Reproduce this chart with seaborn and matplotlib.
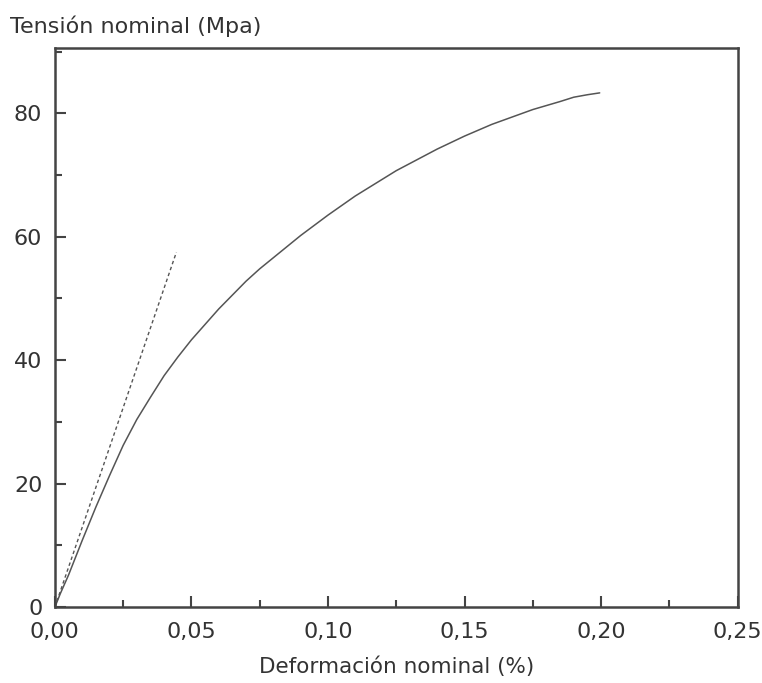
import numpy as np
import pandas as pd
import seaborn as sns
import matplotlib.pyplot as plt
from matplotlib.ticker import MultipleLocator, FuncFormatter

sns.set_style("white")
plt.rcParams['font.family'] = ['DejaVu Sans']

# curva tension-deformacion
deformacion = [0.0, 0.002, 0.005, 0.01, 0.015, 0.02, 0.025, 0.03, 0.035, 0.04, 0.045,
               0.05, 0.06, 0.07, 0.075, 0.08, 0.09, 0.10, 0.11, 0.125, 0.14, 0.15,
               0.16, 0.175, 0.185, 0.19, 0.195, 0.1995]
tension = [0.0, 2.2, 5.2, 10.8, 16.2, 21.3, 26.2, 30.4, 34.0, 37.5, 40.5,
           43.3, 48.3, 52.8, 54.8, 56.6, 60.2, 63.5, 66.6, 70.7, 74.2, 76.3,
           78.2, 80.6, 81.9, 82.6, 83.0, 83.3]

# recta del modulo elastico (discontinua)
modulo_x = [0.0, 0.0445]
modulo_y = [0.0, 57.5]

curva = pd.DataFrame({"x": deformacion, "y": tension})
recta = pd.DataFrame({"x": modulo_x, "y": modulo_y})

fig, ax = plt.subplots(figsize=(7.62, 6.83), dpi=100)
fig.subplots_adjust(left=0.072, right=0.968, bottom=0.111, top=0.930)

sns.lineplot(data=curva, x="x", y="y", ax=ax, color="#555555", linewidth=1.1)
sns.lineplot(data=recta, x="x", y="y", ax=ax, color="#555555", linewidth=1.0,
             linestyle=(0, (2.5, 2)))

ax.set_xlim(0, 0.25)
ax.set_ylim(0, 90.6)
ax.xaxis.set_major_locator(MultipleLocator(0.05))
ax.xaxis.set_minor_locator(MultipleLocator(0.025))
ax.yaxis.set_major_locator(MultipleLocator(20))
ax.yaxis.set_minor_locator(MultipleLocator(10))
ax.xaxis.set_major_formatter(FuncFormatter(lambda v, p: f"{v:.2f}".replace(".", ",")))

txt = "#333333"
ax.tick_params(which="both", direction="in", colors="#444444", labelcolor=txt,
               labelsize=16, bottom=True, left=True, top=False, right=False, width=1.5)
ax.tick_params(which="major", length=8)
ax.tick_params(which="minor", length=5)
ax.tick_params(axis="x", which="major", pad=11)
ax.tick_params(axis="y", which="major", pad=9)

for s in ax.spines.values():
    s.set_color("#444444")
    s.set_linewidth(1.8)

ax.set_xlabel("Deformación nominal (%)", fontsize=15.5, color=txt, labelpad=10)
ax.set_ylabel("")
fig.text(0.013, 0.962, "Tensión nominal (Mpa)", fontsize=16, color=txt, va="center")

fig.savefig("out.png", dpi=100, facecolor="white")
